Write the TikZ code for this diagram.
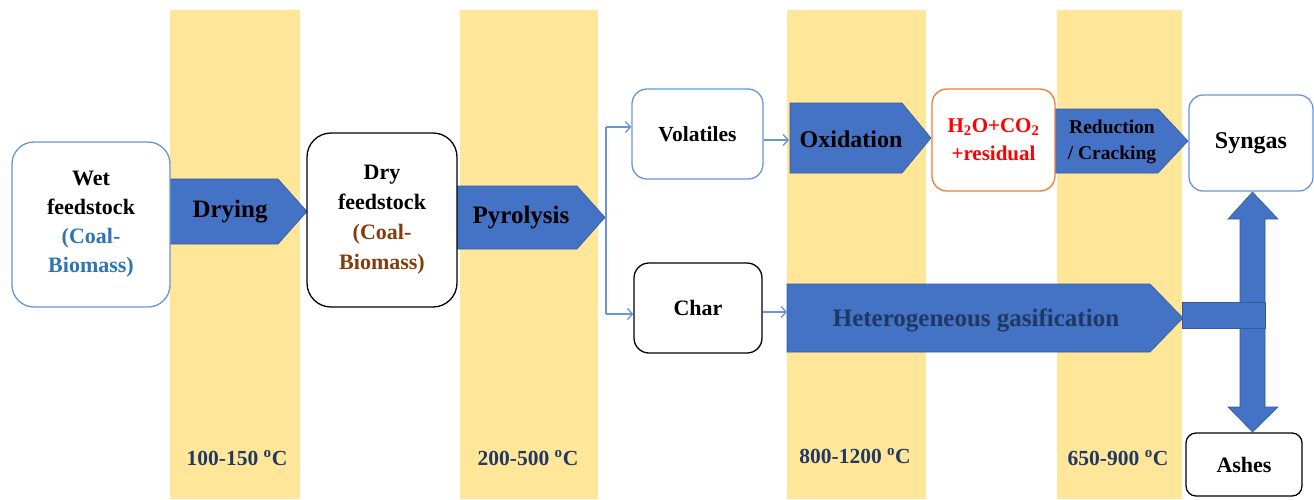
\documentclass[tikz,border=0pt]{standalone}
\usepackage{fontspec}
\setmainfont{Liberation Serif}
\usetikzlibrary{arrows.meta}
\definecolor{band}{RGB}{255,230,153}
\definecolor{fillblue}{RGB}{68,114,196}
\definecolor{edgeblue}{RGB}{52,90,160}
\definecolor{boxblue}{RGB}{105,148,216}
\definecolor{linkblue}{RGB}{105,148,216}
\definecolor{coalblue}{RGB}{46,117,182}
\definecolor{coalbrown}{RGB}{132,60,12}
\definecolor{orangeb}{RGB}{237,125,49}
\definecolor{navy}{RGB}{31,56,100}
\tikzset{
  box/.style={draw, line width=1.3pt, fill=white, inner sep=0pt, align=center},
  arrowshape/.style={fill=fillblue, draw=edgeblue, line width=0.6pt},
  linkline/.style={draw=linkblue, line width=1.3pt},
  link/.style={linkline, -{Straight Barb[length=5pt,width=11pt]}},
  temp/.style={text=navy, font=\bfseries\fontsize{21.5}{26}\selectfont},
  alabel/.style={font=\bfseries\fontsize{25}{30}\selectfont},
}
\begin{document}
\begin{tikzpicture}[x=1pt,y=-1pt]
\useasboundingbox (0,0) rectangle (1314,499);
% bands
\fill[band] (170,10) rectangle (300,499);
\fill[band] (460,10) rectangle (598,499);
\fill[band] (787,10) rectangle (926,499);
\fill[band] (1057,10) rectangle (1182,499);
% arrows
\draw[arrowshape] (170,179) -- (278,179) -- (307,211.5) -- (278,244) -- (170,244) -- cycle;
\node[alabel] (drying) at (230,212) {Drying};
\draw[arrowshape] (457,186) -- (577,186) -- (605,217.5) -- (577,249) -- (457,249) -- cycle;
\node[alabel] (pyro) at (521,218) {Pyrolysis};
\draw[arrowshape] (790,103) -- (902,103) -- (931,138) -- (902,173) -- (790,173) -- cycle;
\node[font=\bfseries\fontsize{24}{29}\selectfont] (oxid) at (851,139) {Oxidation};
\draw[arrowshape] (1055,109) -- (1158,109) -- (1188,141) -- (1158,173) -- (1055,173) -- cycle;
\node[align=center, font=\bfseries\fontsize{19.5}{26}\selectfont] (redu) at (1112,142) {Reduction\\/ Cracking};
\draw[arrowshape] (787,284) -- (1150,284) -- (1183,318) -- (1150,352) -- (787,352) -- cycle;
\node[text=navy, font=\bfseries\fontsize{25}{30}\selectfont] (hetero) at (976,320) {Heterogeneous gasification};
% right double arrow and bar
\draw[arrowshape] (1252.5,192) -- (1278,219) -- (1265,219) -- (1265,407) -- (1278,407) -- (1252.5,432) -- (1228,407) -- (1240,407) -- (1240,219) -- (1228,219) -- cycle;
\draw[arrowshape] (1182,302) rectangle (1265,328);
% boxes
\node[box, draw=boxblue, rounded corners=22pt, minimum width=158pt, minimum height=165pt,
      font=\bfseries\fontsize{22}{29}\selectfont] (wet) at (91,224.5)
      {Wet\\feedstock\\\textcolor{coalblue}{(Coal-}\\\textcolor{coalblue}{Biomass)}};
\node[box, draw=black, rounded corners=24pt, minimum width=150pt, minimum height=174pt,
      font=\bfseries\fontsize{22}{30}\selectfont] (dry) at (382,220)
      {Dry\\feedstock\\\textcolor{coalbrown}{(Coal-}\\\textcolor{coalbrown}{Biomass)}};
\node[box, draw=boxblue, rounded corners=15pt, minimum width=131pt, minimum height=90pt,
      font=\bfseries\fontsize{21.5}{26}\selectfont] (vol) at (697.5,134) {Volatiles};
\node[box, draw=black, rounded corners=15pt, minimum width=128pt, minimum height=90pt,
      font=\bfseries\fontsize{22}{26}\selectfont] (char) at (698,308) {Char};
\node[box, draw=orangeb, rounded corners=15pt, minimum width=123pt, minimum height=102pt,
      text=red, font=\bfseries\fontsize{21}{28}\selectfont] (prod) at (993.5,140)
      {H\textsubscript{2}O+CO\textsubscript{2}\\+residual};
\node[box, draw=boxblue, rounded corners=14pt, minimum width=124pt, minimum height=96pt,
      font=\bfseries\fontsize{24}{28}\selectfont] (syn) at (1251,143) {Syngas};
\node[box, draw=black, rounded corners=10pt, minimum width=116pt, minimum height=63pt,
      font=\bfseries\fontsize{22}{26}\selectfont] (ash) at (1244,464.5) {Ashes};
% connectors
\coordinate (st) at (606,127);
\coordinate (sb) at (606,314);
\coordinate (oxw) at (789,140);
\coordinate (hw) at (787,312);
\draw[linkline] (st) -- (sb);
\draw[link] (st) -- (vol.west |- st);
\draw[link] (sb) -- (char.west |- sb);
\draw[link] (vol.east |- oxw) -- (oxw);
\draw[link] (char.east |- hw) -- (hw);
% temperatures
\node[temp] (t1) at (237,458) {100-150 \textsuperscript{o}C};
\node[temp] (t2) at (528,458) {200-500 \textsuperscript{o}C};
\node[temp] (t3) at (855,456) {800-1200 \textsuperscript{o}C};
\node[temp] (t4) at (1118,458) {650-900 \textsuperscript{o}C};
\end{tikzpicture}
\end{document}
